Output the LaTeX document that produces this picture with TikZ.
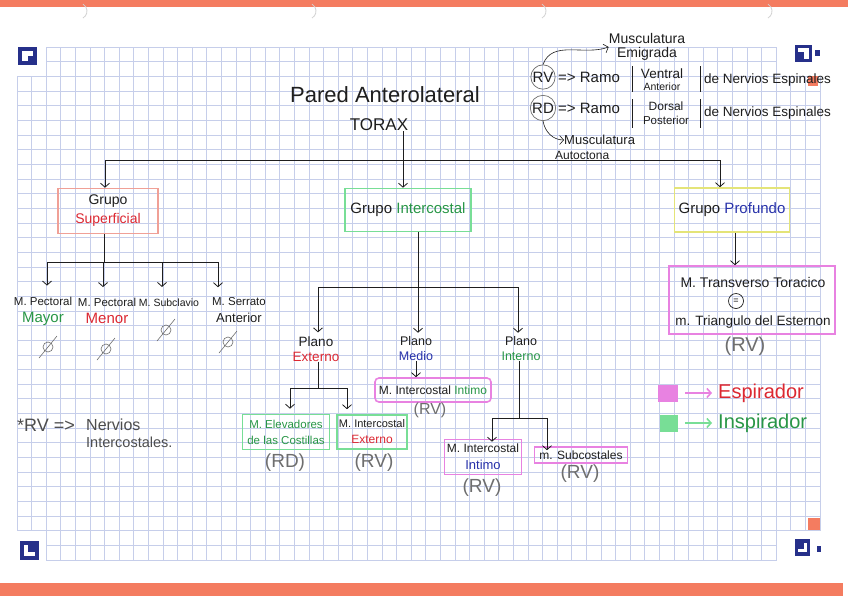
\documentclass[tikz,border=0pt]{standalone}
\usepackage{fontspec}
\setmainfont{Liberation Sans}
\usetikzlibrary{arrows.meta,calc}
\definecolor{gridc}{RGB}{198,206,234}
\definecolor{orangec}{RGB}{244,124,96}
\definecolor{navy}{RGB}{38,48,138}
\definecolor{redt}{RGB}{220,40,50}
\definecolor{greent}{RGB}{40,150,70}
\definecolor{bluet}{RGB}{40,50,170}
\definecolor{pinkb}{RGB}{232,130,225}
\definecolor{greenb}{RGB}{120,222,150}
\definecolor{yellowb}{RGB}{228,228,120}
\definecolor{salmonb}{RGB}{240,160,150}
\definecolor{grayt}{RGB}{110,110,110}
\definecolor{inkc}{RGB}{30,30,30}
\begin{document}
\begin{tikzpicture}[x=1pt,y=-1pt,
  ln/.style={line width=0.8pt, draw=inkc},
  arr/.style={line width=0.8pt, draw=inkc, -{Straight Barb[length=4pt,width=9pt]}},
  tx/.style={inner sep=0pt, align=center, text=inkc, font=\fontsize{11}{14}\selectfont},
  txb/.style={inner sep=0pt, align=center, text=inkc, font=\fontsize{11.5}{17}\selectfont},
  box/.style={draw, line width=1.6pt, inner sep=0pt, align=center, text=inkc},
  rvt/.style={inner sep=0pt, text=grayt, font=\fontsize{19}{21}\selectfont},
  nul/.style={circle, draw=grayt, line width=0.6pt, minimum size=10pt, inner sep=0pt},
  crc/.style={circle, draw=grayt, line width=0.7pt, inner sep=0.5pt, text=inkc, font=\fontsize{15}{16}\selectfont}
]
\useasboundingbox (0,0) rectangle (848,600);
\fill[white] (0,0) rectangle (848,600);
% paper bars
\fill[orangec] (0,0) rectangle (848,7);
\fill[orangec] (0,583) rectangle (843,596);
% faint punch marks
\foreach \px in {83,312,542,768}{\draw[gray!35, line width=0.8pt] (\px,18) arc[start angle=60,end angle=-60,radius=8];}
% grid
\foreach \i in {0,...,55}{\draw[gridc, line width=0.7pt] (17+\i*14.6,47) -- (17+\i*14.6,560);}
\foreach \j in {0,...,35}{\draw[gridc, line width=0.7pt] (17,47+\j*14.66) -- (820,47+\j*14.66);}
\fill[white] (14,44) rectangle (45.6,75.9);
\fill[white] (776.6,44) rectangle (823,75.9);
\fill[white] (14,531.2) rectangle (45.6,563);
\fill[white] (776.6,531.2) rectangle (823,563);
% logos
\fill[navy] (18,47) rectangle (37,65);
\fill[white] (22,51) rectangle (33,61);
\fill[navy] (28,56) rectangle (33,61);
\fill[navy] (795,45) rectangle (812,62);
\fill[white] (798,48) rectangle (809,52);
\fill[white] (804,48) rectangle (809,59);
\fill[navy] (815,50) rectangle (820,56);
\fill[navy] (20,541) rectangle (39,560);
\fill[white] (24,545) rectangle (28,556);
\fill[white] (24,552) rectangle (35,556);
\fill[navy] (795,539) rectangle (810,556);
\fill[white] (804,543) rectangle (807,552);
\fill[white] (798,549) rectangle (807,552);
\fill[navy] (817,546) rectangle (821,552);
\fill[orangec] (808,518) rectangle (820,530);
\fill[orangec] (808,76) rectangle (818,86);

% title
\node[tx, font=\fontsize{22}{24}\selectfont] (tit) at (385,95) {Pared Anterolateral};
\node[tx, font=\fontsize{17}{19}\selectfont] (torax) at (379,125) {TORAX};

% top-right legend
\node[crc] (rv) at (543,77) {RV};
\node[crc] (rd) at (543,108) {RD};
\node[tx, font=\fontsize{15}{17}\selectfont, anchor=west] (rvr) at (558,77) {=> Ramo};
\node[tx, font=\fontsize{15}{17}\selectfont, anchor=west] (rdr) at (558,108) {=> Ramo};
\node[tx, font=\fontsize{13.5}{15}\selectfont] (ven) at (662,74) {Ventral};
\node[tx, font=\fontsize{10.5}{12}\selectfont] (ant) at (662,87) {Anterior};
\node[tx, font=\fontsize{12}{14}\selectfont] (dor) at (666,106) {Dorsal};
\node[tx, font=\fontsize{11.5}{13}\selectfont] (pos) at (666,120) {Posterior};
\node[tx, font=\fontsize{13.5}{15}\selectfont, anchor=west] (dn1) at (704,80) {de Nervios Espinales};
\node[tx, font=\fontsize{13.5}{15}\selectfont, anchor=west] (dn2) at (704,113) {de Nervios Espinales};
\coordinate (b1) at (632,66); \coordinate (b2) at (632,92);
\coordinate (b3) at (700,66); \coordinate (b4) at (700,92);
\coordinate (b5) at (632,99); \coordinate (b6) at (632,128);
\coordinate (b7) at (700,99); \coordinate (b8) at (700,128);
\draw[ln] (b1) -- (b2); \draw[ln] (b3) -- (b4);
\draw[ln] (b5) -- (b6); \draw[ln] (b7) -- (b8);
\node[tx, font=\fontsize{14}{14}\selectfont] (mem) at (647,47) {Musculatura\\Emigrada};
\node[tx, font=\fontsize{13}{14}\selectfont, anchor=west] (mau) at (564,140) {Musculatura};
\node[tx, font=\fontsize{12}{13}\selectfont, anchor=west] (mau2) at (555,155) {Autoctona};
\draw[arr, line width=0.6pt] (rv.north) to[out=70,in=200] (mem.west);
\draw[arr, line width=0.6pt] (rd.south) to[out=-80,in=180] (mau.west);

% level 1
\node[box, draw=salmonb, minimum width=100pt, minimum height=45pt, font=\fontsize{14}{19}\selectfont] (gs) at (108,211) {Grupo\\{\color{redt}Superficial}};
\node[box, draw=greenb, minimum width=126pt, minimum height=43pt, font=\fontsize{15}{16}\selectfont] (gi) at (408,210) {Grupo {\color{greent}Intercostal}};
\node[box, draw=yellowb, minimum width=115pt, minimum height=44pt, font=\fontsize{15}{16}\selectfont] (gp) at (732,210) {Grupo {\color{bluet}Profundo}};
\coordinate (h0) at (403,160); \coordinate (hL) at (105,160); \coordinate (hR) at (720,160);
\draw[ln] (h0 |- torax.south) -- (h0);
\draw[ln] (hL) -- (hR);
\draw[arr] (hL) -- (hL |- gs.north);
\draw[arr] (h0) -- (h0 |- gi.north);
\draw[arr] (hR) -- (hR |- gp.north);

% superficial children
\coordinate (s0) at (104,262); \coordinate (s1) at (47,262); \coordinate (s2) at (103,262);
\coordinate (s3) at (162,262); \coordinate (s4) at (218,262);
\draw[ln] (s0 |- gs.south) -- (s0);
\draw[ln] (s1) -- (s4);
\node[txb] (pm) at (43,311) {M. Pectoral\\{\color{greent}\fontsize{15}{17}\selectfont Mayor}};
\node[txb] (pme) at (107,311) {M. Pectoral\\{\color{redt}\fontsize{15}{17}\selectfont Menor}};
\node[txb, font=\fontsize{10.5}{17}\selectfont] (msb) at (169,303) {M. Subclavio};
\node[txb] (mse) at (239,310) {M. Serrato\\{\fontsize{13}{15}\selectfont Anterior}};
\draw[arr, shorten >=11pt] (s1) -- (s1 |- pm.north);
\draw[arr, shorten >=11pt] (s2) -- (s2 |- pme.north);
\draw[arr, shorten >=12pt] (s3) -- (s3 |- msb.north);
\draw[arr, shorten >=10pt] (s4) -- (s4 |- mse.north);
\node[nul] (n1) at (48,347) {};
\node[nul] (n2) at (106,349) {};
\node[nul] (n3) at (166,330) {};
\node[nul] (n4) at (228,342) {};
\foreach \n in {n1,n2,n3,n4}{\draw[grayt, line width=0.6pt] ($(\n)+(-9,11)$) -- ($(\n)+(9,-11)$);}

% intercostal children
\coordinate (i0) at (418,287); \coordinate (iL) at (318,287); \coordinate (iR) at (518,287);
\draw[ln] (i0 |- gi.south) -- (i0);
\draw[ln] (iL) -- (iR);
\node[tx, font=\fontsize{13.5}{15}\selectfont] (pe) at (316,349) {Plano\\{\color{redt}Externo}};
\node[tx, font=\fontsize{12.5}{15}\selectfont] (pmd) at (416,349) {Plano\\{\color{bluet}Medio}};
\node[tx, font=\fontsize{12.5}{15}\selectfont] (pin) at (521,349) {Plano\\{\color{greent}Interno}};
\draw[arr, shorten >=4pt] (iL) -- (iL |- pe.north);
\draw[arr, shorten >=4pt] (i0) -- (i0 |- pmd.north);
\draw[arr, shorten >=4pt] (iR) -- (iR |- pin.north);

% plano externo
\coordinate (e0) at (318,388); \coordinate (e1) at (290,388); \coordinate (e2) at (347,388);
\draw[ln] (pe.south -| e0) -- (e0);
\draw[ln] (e1) -- (e2);
\node[box, draw=greenb, minimum width=87pt, minimum height=35pt, text=greent, font=\fontsize{11.5}{16}\selectfont] (elev) at (286,432) {M. Elevadores\\de las Costillas};
\node[box, draw=greenb, minimum width=70pt, minimum height=34pt, font=\fontsize{11}{16}\selectfont] (iext) at (372,432) {M. Intercostal\\{\color{redt}\fontsize{12}{14}\selectfont Externo}};
\draw[arr, shorten >=5pt] (e1) -- (e1 |- elev.north);
\draw[arr, shorten >=5pt] (e2) -- (e2 |- iext.north);
\node[rvt] (rd1) at (285,463) {(RD)};
\node[rvt] (rv1) at (374,463) {(RV)};

% plano medio
\node[box, draw=pinkb, rounded corners=4pt, minimum width=116pt, minimum height=24pt, font=\fontsize{12}{13}\selectfont] (imed) at (433,390) {M. Intercostal {\color{greent}Intimo}};
\draw[arr] (pmd.south) -- (pmd.south |- imed.north);
\node[rvt, font=\fontsize{16}{18}\selectfont] (rv2) at (430,410) {(RV)};

% plano interno
\coordinate (p0) at (519,418); \coordinate (p1) at (492,418); \coordinate (p2) at (547,418);
\draw[ln] (pin.south -| p0) -- (p0);
\draw[ln] (p1) -- (p2);
\node[box, draw=pinkb, minimum width=77pt, minimum height=35pt, font=\fontsize{12}{17}\selectfont] (iin) at (483,457) {M. Intercostal\\{\color{bluet}\fontsize{13}{15}\selectfont Intimo}};
\node[box, draw=pinkb, minimum width=93pt, minimum height=16pt, font=\fontsize{12}{13}\selectfont] (sub) at (581,455) {m. Subcostales};
\draw[arr, shorten >=-3pt] (p1) -- (p1 |- iin.north);
\draw[arr, shorten >=-4pt] (p2) -- (p2 |- sub.north);
\node[rvt] (rv3) at (482,488) {(RV)};
\node[rvt] (rv4) at (580,474) {(RV)};

% profundo
\node[box, draw=pinkb, minimum width=166pt, minimum height=68pt] (tt) at (752,300) {};
\node[tx, font=\fontsize{14}{16}\selectfont] (mtt) at (753,282) {M. Transverso Toracico};
\node[circle, draw=inkc, line width=0.7pt, minimum width=15pt, inner sep=1pt, font=\fontsize{9}{10}\selectfont] (eq) at (736,301) {=};
\node[tx, font=\fontsize{13.5}{16}\selectfont] (mte) at (753,322) {m. Triangulo del Esternon};
\coordinate (g0) at (735,234);
\draw[arr] (g0 |- gp.south) -- (g0 |- tt.north);
\node[rvt, font=\fontsize{20}{22}\selectfont] (rv5) at (745,346) {(RV)};

% colour legend
\node[fill=pinkb, minimum width=20pt, minimum height=17pt, inner sep=0pt] (lp) at (668,393) {};
\node[tx, text=redt, font=\fontsize{20}{22}\selectfont, anchor=west] (le) at (718,393) {Espirador};
\node[fill=greenb, minimum width=18pt, minimum height=17pt, inner sep=0pt] (lg) at (669,423) {};
\node[tx, text=greent, font=\fontsize{20}{22}\selectfont, anchor=west] (li) at (718,423) {Inspirador};
\draw[pinkb, line width=1.6pt, -{Straight Barb[length=4pt,width=9pt]}, shorten <=7pt, shorten >=6pt] (lp) -- (le.west);
\draw[greenb, line width=1.6pt, -{Straight Barb[length=4pt,width=9pt]}, shorten <=7pt, shorten >=6pt] (lg) -- (li.west);

% note
\node[tx, text=grayt!70!black, font=\fontsize{18}{20}\selectfont, anchor=west] (nt0) at (17,425) {*RV =>};
\node[tx, text=grayt!70!black, font=\fontsize{16}{18}\selectfont, anchor=west] (nt1) at (86,425) {Nervios};
\node[tx, text=grayt!70!black, font=\fontsize{14.5}{16}\selectfont, anchor=west] (nt2) at (86,442) {Intercostales.};
\end{tikzpicture}
\end{document}
